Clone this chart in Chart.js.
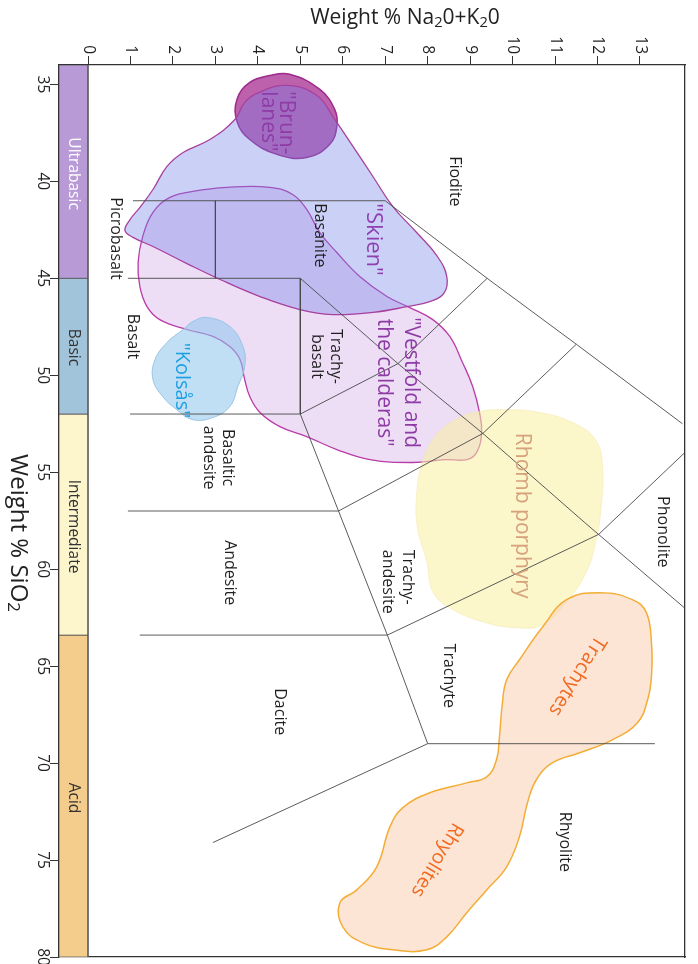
<!DOCTYPE html>
<html><head><meta charset="utf-8">
<script src="https://cdn.jsdelivr.net/npm/chart.js@4.4.1/dist/chart.umd.min.js"></script>
<style>html,body{margin:0;padding:0;background:#fff;}#wrap{width:698px;height:964px;position:relative;}</style>
</head><body><div id="wrap"><canvas id="c"></canvas></div>
<script>
// ---------- data (x = Na2O+K2O wt%, y = SiO2 wt%) ----------
const xTicks = [0,1,2,3,4,5,6,7,8,9,10,11,12,13];
const yTicks = [35,40,45,50,55,60,65,70,75,80];
const bandNames = ['Ultrabasic','Basic','Intermediate','Acid'];
const bandBounds = [34,45,52,63.4,80];

// TAS field boundaries [alkali, SiO2]
const tasFoidite = [[1.06,41],[7,41],[9.4,45],[11.5,48.4],[14,52.5]];
const tasPicro = [[3,41],[3,45]];
const tasSi45 = [[0.94,45],[5,45]];
const tasA5 = [[5,45],[5,52]];
const tasSi52 = [[0.99,52],[5,52]];
const tasMain = [[5,45],[7.3,49.4],[9.3,53],[11.7,57.6],[14.05,62.0]];
const tasPhono = [[12.03,58.2],[14.05,54.0]];
const tasTrachyAnd = [[12.03,58.2],[7.05,63.4]];
const tasBTA = [[11.5,48.4],[9.3,53],[5.9,57]];
const tasTB = [[9.4,45],[7.3,49.4],[5,52]];
const tasLower = [[5,52],[5.9,57],[7.05,63.4],[8,69]];
const tasSi57 = [[0.94,57],[5.9,57]];
const tasSi63 = [[1.22,63.4],[7.05,63.4]];
const tasSi69 = [[8,69],[13.35,69]];
const tasDacRhy = [[8,69],[2.94,74.1]];

// Rock-suite outlines [alkali, SiO2]
const brunlanes = [[4.75,34.48],[5.46,35.26],[5.81,36.29],[5.86,37.17],[5.69,38.10],[5.15,38.77],[4.45,38.61],[3.81,37.84],[3.51,36.91],[3.51,35.77],[3.81,34.90],[4.28,34.54]];
const skien = [[3.69,35.93],[3.98,35.46],[4.68,35.05],[5.39,35.57],[5.81,36.81],[6.24,38.20],[6.71,39.75],[7.18,41.30],[7.74,42.64],[8.21,43.82],[8.45,44.91],[8.38,45.78],[8.05,46.20],[7.51,46.46],[6.71,46.76],[5.76,46.87],[4.99,46.61],[4.05,45.94],[3.11,45.06],[2.33,44.24],[1.53,43.36],[1.06,42.89],[0.87,42.53],[0.99,41.97],[1.22,41.35],[1.53,40.42],[1.86,39.23],[2.24,38.51],[2.87,37.84],[3.46,36.81]];
const vestfold = [[1.93,40.83],[2.47,40.52],[3.27,40.31],[4.28,40.31],[4.82,40.68],[5.15,41.45],[5.46,42.64],[5.86,43.67],[6.40,44.91],[7.04,45.94],[7.58,46.51],[8.12,47.13],[8.52,48.00],[8.82,49.34],[9.06,50.58],[9.22,51.92],[9.27,52.96],[9.15,53.99],[8.92,54.35],[8.42,54.35],[7.65,54.50],[6.64,54.35],[5.86,53.83],[5.15,53.16],[4.52,52.65],[4.05,51.92],[3.81,51.10],[3.69,50.22],[3.58,49.19],[3.34,48.52],[2.94,48.00],[2.33,47.64],[1.69,47.13],[1.39,46.46],[1.22,45.42],[1.18,44.18],[1.29,42.84],[1.53,41.60]];
const kolsas = [[2.80,47.02],[3.34,47.49],[3.65,48.52],[3.69,49.55],[3.53,50.58],[3.34,51.61],[2.94,52.18],[2.47,52.29],[2.09,51.77],[1.76,51.10],[1.53,50.22],[1.58,49.19],[1.86,48.31],[2.24,47.64],[2.47,47.23]];
const rhomb = [[9.69,51.77],[10.64,51.92],[11.51,52.54],[11.98,53.42],[12.12,54.76],[12.09,56.67],[11.98,58.37],[11.74,60.13],[11.27,61.68],[10.71,62.86],[10.09,63.02],[9.29,62.71],[8.52,61.99],[8.12,61.16],[7.98,59.61],[7.76,57.86],[7.74,56.16],[7.88,54.45],[8.21,53.06],[8.75,52.18],[9.22,51.87]];
const trachyRhyo = [[12.05,61.21],[12.82,61.57],[13.15,62.24],[13.27,63.79],[13.27,65.55],[13.18,66.73],[12.94,67.92],[12.35,68.80],[11.58,69.47],[10.94,69.98],[10.56,70.86],[10.35,72.05],[10.16,73.80],[9.86,75.35],[9.39,76.54],[8.92,77.72],[8.45,78.96],[7.98,79.63],[7.18,79.63],[6.47,79.27],[6.00,78.45],[5.93,77.21],[6.33,76.54],[6.80,75.35],[7.11,73.29],[7.41,72.31],[8.05,71.53],[8.92,71.02],[9.39,70.71],[9.62,69.83],[9.69,68.64],[9.76,66.89],[9.86,65.70],[10.16,64.67],[10.71,62.97],[11.27,61.57]];

// ---------- chart ----------
const X_MIN = -0.683, X_MAX = 14.06, Y_MIN = 34, Y_MAX = 80;
const FONT = '"Open Sans", "Noto Sans", sans-serif';
Chart.defaults.font.family = FONT;

const toXY = arr => arr.map(([a, s]) => ({x: a, y: s}));
function shapeDs(pts, bg, border, bw, order) {
  return {data: toXY(pts), closed: true, fill: 'shape', backgroundColor: bg, borderColor: border,
          borderWidth: bw, tension: 0.42, pointRadius: 0, order};
}
function lineDs(pts) {
  return {data: toXY(pts), fill: false, borderColor: '#4a4a4a', borderWidth: 0.9, tension: 0, pointRadius: 0, order: 0};
}
const bandColors = ['#b89bd6','#a2c4da','#fdf6cd','#f4cd8c'];
const datasets = [];
bandNames.forEach((n, i) => {
  const b0 = bandBounds[i], b1 = bandBounds[i + 1];
  datasets.push({data: toXY([[X_MIN,b0],[0,b0],[0,b1],[X_MIN,b1],[X_MIN,b0]]), fill: 'shape',
    backgroundColor: bandColors[i], borderColor: '#555', borderWidth: 0.8, tension: 0, pointRadius: 0, order: 10});
});
datasets.push(shapeDs(vestfold, 'rgba(208,165,228,0.38)', '#b83ca8', 1.3, 6));
datasets.push(shapeDs(brunlanes, 'rgba(170,52,150,0.78)', '#9c2b8c', 1.5, 5));
datasets.push(shapeDs(skien, 'rgba(115,128,230,0.37)', '#a8409e', 1.3, 4));
datasets.push(shapeDs(kolsas, 'rgba(140,196,236,0.55)', '#98c4e4', 1.0, 3));
datasets.push(shapeDs(rhomb, 'rgba(250,238,160,0.55)', 'rgba(245,232,175,0.7)', 0.8, 2));
datasets.push(shapeDs(trachyRhyo, 'rgba(250,205,175,0.52)', '#f3ad35', 1.5, 1));
[tasFoidite, tasPicro, tasSi45, tasA5, tasSi52, tasMain, tasPhono, tasTrachyAnd, tasBTA, tasTB,
 tasLower, tasSi57, tasSi63, tasSi69, tasDacRhy].forEach(l => datasets.push(lineDs(l)));

const loopPlugin = {
  id: 'loopShapes',
  afterDatasetUpdate(chart, args) {
    const ds = chart.data.datasets[args.index];
    if (ds.closed && args.meta.dataset) {
      const line = args.meta.dataset;
      line._loop = true; line._fullLoop = true; line._pointsUpdated = false; line._segments = undefined; line._path = undefined;
    }
  }
};

// labels (positions in data coordinates)
const fieldLabels = [
  {lines:['Fiodite'], a:8.64, s:40.0},
  {lines:['Picrobasalt'], a:0.66, s:42.95},
  {lines:['Basanite'], a:5.46, s:42.79},
  {lines:['Basalt'], a:1.04, s:48.0},
  {lines:['Trachy-','basalt'], a:5.61, s:49.03, lh:19},
  {lines:['Basaltic','andesite'], a:3.06, s:54.25, lh:19},
  {lines:['Andesite'], a:3.34, s:60.18},
  {lines:['Dacite'], a:4.50, s:67.35},
  {lines:['Trachy-','andesite'], a:7.28, s:59.0, lh:20, align:'left'},
  {lines:['Trachyte'], a:8.48, s:65.5},
  {lines:['Phonolite'], a:13.52, s:58.07},
  {lines:['Rhyolite'], a:11.23, s:74.06}
];
const suiteLabels = [
  {lines:['"Brun-','lanes"'], a:4.44, s:35.36, lh:18, align:'left', size:21, color:'#8e3ba6'},
  {lines:['"Skien"'], a:6.71, s:43.0, size:22, color:'#8e3fb0'},
  {lines:['"Vestfold and','the calderas"'], a:7.28, s:50.38, lh:27, size:21, color:'#8e3ba6'},
  {lines:['"Kolsås"'], a:2.21, s:50.27, size:20, color:'#1d9fe2'},
  {lines:['Rhomb porphyry'], a:10.22, s:57.24, size:21, color:'#d6a27c'},
  {lines:['Trachytes'], a:11.52, s:65.5, size:20, color:'#f26a22', angle:122},
  {lines:['Rhyolites'], a:8.22, s:74.99, size:19.5, color:'#f26a22', angle:121}
];
const bandLabelPos = [39.6, 48.57, 57.8, 71.8];
const bandLabelColors = ['#ffffff','#333','#333','#333'];

function drawRich(ctx, segs, size) {
  let w = 0;
  segs.forEach(sg => { ctx.font = (sg.sub ? size*0.7 : size) + 'px ' + FONT; sg.w = ctx.measureText(sg.t).width; w += sg.w; });
  let x = -w / 2;
  segs.forEach(sg => {
    ctx.font = (sg.sub ? size*0.7 : size) + 'px ' + FONT;
    ctx.fillText(sg.t, x, sg.sub ? size*0.22 : 0);
    x += sg.w;
  });
}

const textPlugin = {
  id: 'texts',
  afterDraw(chart) {
    const ctx = chart.ctx, xs = chart.scales.x, ys = chart.scales.y, area = chart.chartArea;
    ctx.save();
    ctx.fillStyle = '#222';
    ctx.font = '15.5px ' + FONT;
    xs.ticks.forEach(t => {
      ctx.save(); ctx.translate(xs.getPixelForValue(t.value), area.top - 11); ctx.rotate(Math.PI/2);
      ctx.textAlign = 'right'; ctx.textBaseline = 'middle'; ctx.fillText(String(t.value), 0, 0); ctx.restore();
    });
    ys.ticks.forEach(t => {
      ctx.save(); ctx.translate(area.left - 17, ys.getPixelForValue(t.value)); ctx.rotate(Math.PI/2);
      ctx.textAlign = 'center'; ctx.textBaseline = 'middle'; ctx.fillText(String(t.value), 0, 0); ctx.restore();
    });
    // axis titles
    ctx.textAlign = 'left'; ctx.textBaseline = 'middle'; ctx.fillStyle = '#222';
    ctx.save(); ctx.translate(405, 18);
    drawRich(ctx, [{t:'Weight % Na'},{t:'2',sub:true},{t:'0+K'},{t:'2',sub:true},{t:'0'}], 21);
    ctx.restore();
    ctx.save(); ctx.translate(18, 533); ctx.rotate(Math.PI/2);
    drawRich(ctx, [{t:'Weight % SiO'},{t:'2',sub:true}], 24);
    ctx.restore();

    const draw = (L, defSize, defColor) => {
      const size = L.size || defSize, lh = L.lh || size * 1.25;
      ctx.save();
      ctx.translate(xs.getPixelForValue(L.a), ys.getPixelForValue(L.s));
      ctx.rotate((L.angle || 90) * Math.PI / 180);
      ctx.font = size + 'px ' + FONT; ctx.fillStyle = L.color || defColor;
      ctx.textAlign = L.align || 'center'; ctx.textBaseline = 'middle';
      const n = L.lines.length;
      L.lines.forEach((t, i) => ctx.fillText(t, 0, (i - (n - 1) / 2) * lh));
      ctx.restore();
    };
    fieldLabels.forEach(L => draw(L, 16, '#1e1e1e'));
    suiteLabels.forEach(L => draw(L, 21, '#8e3ba6'));
    bandNames.forEach((n, i) => draw({lines:[n], a: X_MIN / 2, s: bandLabelPos[i], color: bandLabelColors[i]}, 15.5, '#333'));
    ctx.restore();
  }
};

new Chart(document.getElementById('c'), {
  type: 'line',
  data: {datasets},
  options: {
    responsive: true, maintainAspectRatio: false, animation: false, events: [],
    layout: {padding: {top: 56, left: 50, right: 13, bottom: 7}},
    plugins: {legend: {display: false}, tooltip: {enabled: false}},
    scales: {
      x: {type: 'linear', position: 'top', min: X_MIN, max: X_MAX,
          ticks: {display: false},
          grid: {drawOnChartArea: false, drawTicks: true, tickLength: 9, color: '#333', lineWidth: 1},
          border: {display: true, color: '#333', width: 1.3},
          afterBuildTicks: s => { s.ticks = xTicks.map(v => ({value: v})); },
          afterFit: s => { s.height = 9; }},
      y: {type: 'linear', position: 'left', reverse: true, min: Y_MIN, max: Y_MAX,
          ticks: {display: false},
          grid: {drawOnChartArea: false, drawTicks: true, tickLength: 9, color: '#333', lineWidth: 1},
          border: {display: true, color: '#333', width: 1.3},
          afterBuildTicks: s => { s.ticks = yTicks.map(v => ({value: v})); },
          afterFit: s => { s.width = 9; }},
      x2: {type: 'linear', position: 'bottom', min: X_MIN, max: X_MAX, ticks: {display: false},
           grid: {display: false, drawTicks: false}, border: {display: true, color: '#333', width: 1.3},
           afterFit: s => { s.height = 0; }},
      y2: {type: 'linear', position: 'right', min: Y_MIN, max: Y_MAX, ticks: {display: false},
           grid: {display: false, drawTicks: false}, border: {display: true, color: '#333', width: 1.3},
           afterFit: s => { s.width = 0; }}
    }
  },
  plugins: [loopPlugin, textPlugin]
});
</script></body></html>
